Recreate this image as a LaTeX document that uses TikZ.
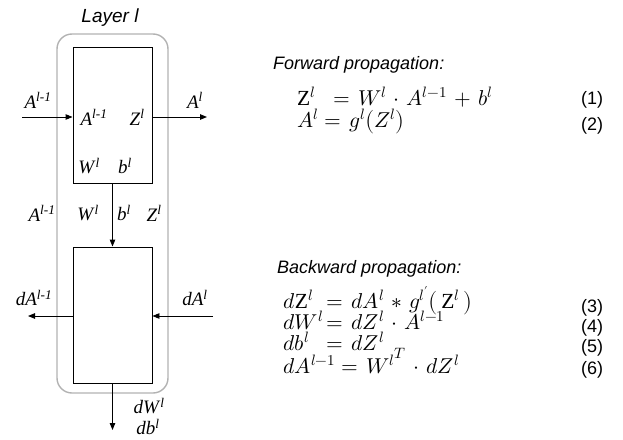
\documentclass[tikz,border=0pt]{standalone}
\usepackage{fontspec}
\usepackage{unicode-math}
\setmainfont{Liberation Serif}
\setmathfont{Latin Modern Math}
\newfontfamily\labelsans{Liberation Sans}
\usetikzlibrary{arrows.meta}

% italic variable with a raised italic index
\newcommand{\vlab}[2]{\textit{#1}\textsuperscript{\textit{#2}}}
% roomier spacing around math operators
\newcommand{\widemath}{\medmuskip=6mu plus 2mu\thickmuskip=7mu plus 3mu}

\begin{document}
\begin{tikzpicture}[x=1pt,y=-1pt,
    lbl/.style={font=\fontsize{19}{22}\selectfont, inner sep=0pt},
    heading/.style={font=\labelsans\itshape\fontsize{18}{22}\selectfont, anchor=base west, inner sep=0pt},
    eqn/.style={font=\fontsize{21.5}{24}\selectfont\widemath, anchor=base west, inner sep=0pt},
    eqnum/.style={font=\labelsans\fontsize{18}{22}\selectfont, anchor=base west, inner sep=0pt},
    block/.style={draw=black, line width=0.9pt, minimum width=79pt, inner sep=0pt},
    flow/.style={draw=black, line width=0.9pt, -{Triangle[length=7pt,width=5.5pt]}}]
  \useasboundingbox (0,0) rectangle (623,439);

  % layer frame and its title
  \draw[draw=black!30, line width=1.4pt, rounded corners=15pt] (57,34) rectangle (168,393);
  \node[font=\labelsans\itshape\fontsize{19}{22}\selectfont] (title) at (110,18) {Layer \textit{l}};

  % forward and backward blocks
  \node[block, minimum height=136pt] (fwd) at (112.5,115) {};
  \node[block, minimum height=136pt] (bwd) at (112.5,315) {};

  % forward connectors
  \coordinate (inA) at (22,117);
  \coordinate (outA) at (207,117);
  \draw[flow] (inA) -- (inA -| fwd.west);
  \draw[flow] (outA -| fwd.east) -- (outA);
  \draw[flow] (fwd.south) -- (bwd.north);

  % backward connectors
  \coordinate (indA) at (213,316);
  \coordinate (outdA) at (28,316);
  \coordinate (outdW) at (112.5,430);
  \draw[flow] (indA) -- (indA -| bwd.east);
  \draw[flow] (outdA -| bwd.west) -- (outdA);
  \draw[flow] (bwd.south) -- (outdW);

  % labels around the forward block
  \node[lbl] (lAin) at (38,100) {\vlab{A}{l-1}};
  \node[lbl] (lAout) at (195,100) {\vlab{A}{l}};
  \node[lbl] (lAprev) at (94,117) {\vlab{A}{l-1}};
  \node[lbl] (lZ) at (137,117) {\vlab{Z}{l}};
  \node[lbl] (lW) at (89,166) {\vlab{W}{l}};
  \node[lbl] (lb) at (125,166) {\vlab{b}{l}};

  % cached values passed down
  \node[lbl] (cA) at (42,213) {\vlab{A}{l-1}};
  \node[lbl] (cW) at (88,213) {\vlab{W}{l}};
  \node[lbl] (cb) at (124,213) {\vlab{b}{l}};
  \node[lbl] (cZ) at (154,213) {\vlab{Z}{l}};

  % labels around the backward block
  \node[lbl] (ldAout) at (34,298) {\vlab{dA}{l-1}};
  \node[lbl] (ldAin) at (195,298) {\vlab{dA}{l}};
  \node[lbl] (ldW) at (149,406) {\vlab{dW}{l}};
  \node[lbl] (ldb) at (148,427) {\vlab{db}{l}};

  % forward equations
  \node[heading] (fh) at (273,69) {Forward propagation:};
  \node[eqn] (f1l) at (297,105) {$\mathrm{Z}^{l}$};
  \node[eqn] (f1r) at (333,105) {$= W^{l}\cdot A^{l-1}+b^{l}$};
  \node[eqnum] (f1n) at (581,104) {(1)};
  \node[eqn] (f2l) at (297,127) {$A^{l}$};
  \node[eqn] (f2r) at (324,127) {$= g^{l}\bigl(Z^{l}\bigr)$};
  \node[eqnum] (f2n) at (581,130) {(2)};

  % backward equations
  \node[heading] (bh) at (277,273) {Backward propagation:};
  \node[eqn] (b3l) at (283,308) {$d\mathrm{Z}^{l}$};
  \node[eqn] (b3r) at (326,308) {$= dA^{l}\ast g^{l'}\bigl(\,\mathrm{Z}^{l}\,\bigr)$};
  \node[eqnum] (b3n) at (581,312) {(3)};
  \node[eqn] (b4l) at (283,329) {$dW^{l}$};
  \node[eqn] (b4r) at (326,329) {$= dZ^{l}\cdot A^{l-1}$};
  \node[eqnum] (b4n) at (581,332) {(4)};
  \node[eqn] (b5l) at (283,350) {$db^{l}$};
  \node[eqn] (b5r) at (326,350) {$= dZ^{l}$};
  \node[eqnum] (b5n) at (581,352) {(5)};
  \node[eqn] (b6l) at (283,373) {$dA^{l-1}$};
  \node[eqn] (b6r) at (341,373) {$= {W^{l}}^{T}\cdot dZ^{l}$};
  \node[eqnum] (b6n) at (581,374) {(6)};
\end{tikzpicture}
\end{document}
